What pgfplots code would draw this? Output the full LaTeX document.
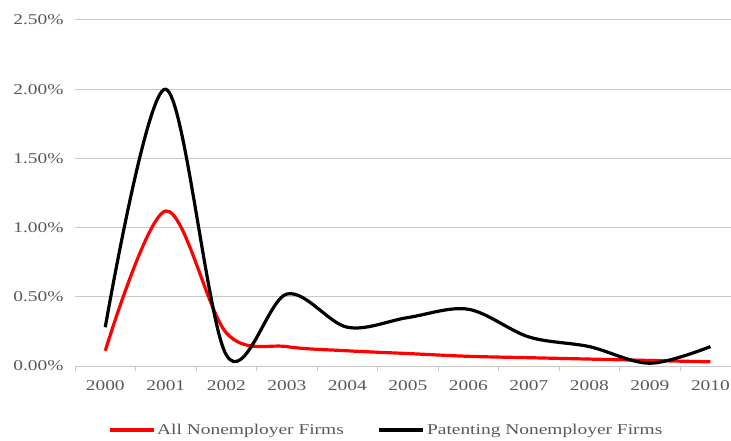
\documentclass[border=0pt]{standalone}
\usepackage{pgfplots}
\pgfplotsset{compat=1.18}
\usepackage{fontspec}
\setmainfont{Liberation Serif}[FakeStretch=1.3]
\definecolor{txtgray}{HTML}{595959}
\definecolor{gridgray}{HTML}{C8C8C8}
\begin{document}
\begin{tikzpicture}
\path[use as bounding box] (0,0) rectangle (731bp,441bp);
\begin{axis}[
    at={(75bp,75bp)}, anchor=south west,
    scale only axis,
    width=656bp, height=346bp,
    xmin=-0.5, xmax=10.34,
    ymin=0, ymax=2.5,
    axis lines=left,
    axis line style={-},
    y axis line style={draw=none},
    x axis line style={gridgray, line width=1bp},
    xtick={0,1,...,10},
    xticklabels={2000,2001,2002,2003,2004,2005,2006,2007,2008,2009,2010},
    extra x ticks={-0.5,0.5,...,9.5},
    extra x tick labels={},
    extra x tick style={major tick length=5bp, tick style={gridgray, line width=1bp}},
    x tick style={gridgray, line width=1bp},
    tick align=outside,
    major tick length=0pt,
    ytick={0,0.5,...,2.5},
    y tick style={draw=none},
    ymajorgrids,
    grid style={gridgray, line width=1bp},
    yticklabel={\pgfmathprintnumber[fixed,fixed zerofill,precision=2]{\tick}\%},
    /pgf/number format/assume math mode=true,
    tick label style={font=\fontsize{15}{17}\selectfont, text=txtgray},
    xticklabel style={yshift=-11bp},
    yticklabel style={xshift=-8bp},
    clip=false,
    legend columns=2,
    legend style={
        at={(0.05,-0.185)}, anchor=west, draw=none, fill=none,
        font=\fontsize{15}{17}\selectfont, text=txtgray,
        /tikz/every even column/.append style={column sep=32bp},
        inner sep=0pt,
    },
    legend image code/.code={\draw[#1] (0bp,0bp) -- (44bp,0bp);},
]
\addplot[red, line width=3.2bp, smooth, tension=0.55] coordinates {
    (0,0.11) (1,1.12) (2,0.24) (3,0.14) (4,0.11) (5,0.09)
    (6,0.07) (7,0.06) (8,0.05) (9,0.04) (10,0.03)
};
\addlegendentry{All Nonemployer Firms}
\addplot[black, line width=3.2bp, smooth, tension=0.55] coordinates {
    (0,0.28) (1,2.00) (2,0.08) (3,0.52) (4,0.28) (5,0.35)
    (6,0.41) (7,0.21) (8,0.14) (9,0.02) (10,0.14)
};
\addlegendentry{Patenting Nonemployer Firms}
\end{axis}
\end{tikzpicture}
\end{document}
